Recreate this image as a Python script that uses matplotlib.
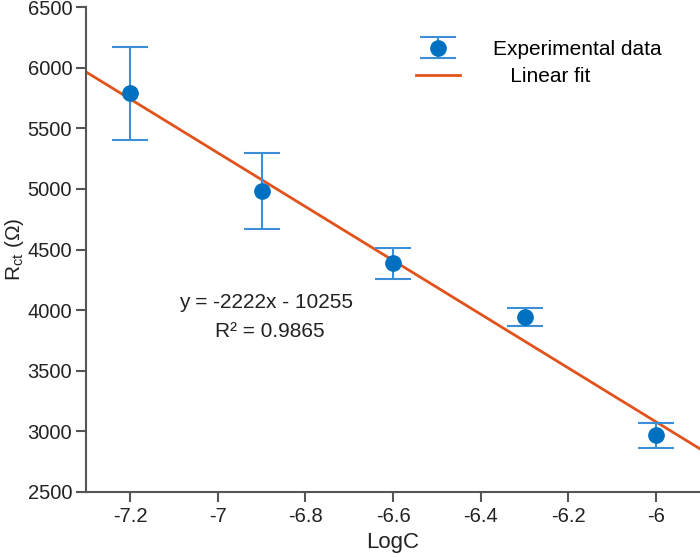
import numpy as np
import matplotlib
matplotlib.use("Agg")
import matplotlib.pyplot as plt

plt.rcParams["font.family"] = ["Liberation Sans", "DejaVu Sans"]

logc = [-7.2, -6.9, -6.6, -6.3, -6.0]
rct = [5790, 4985, 4385, 3940, 2965]
rct_err = [385, 315, 130, 75, 100]
slope = -2222
intercept = -10255
xticks = [-7.2, -7.0, -6.8, -6.6, -6.4, -6.2, -6.0]
xticklabels = ["-7.2", "-7", "-6.8", "-6.6", "-6.4", "-6.2", "-6"]
yticks = [2500, 3000, 3500, 4000, 4500, 5000, 5500, 6000, 6500]

fig = plt.figure(figsize=(7, 5.57), dpi=100)
ax = fig.add_axes([0.123, 0.117, 0.877, 0.870])

xfit = np.array([-7.3, -5.9])
ax.plot(xfit, slope * xfit + intercept, color="#E2531C", lw=2, label="   Linear fit", zorder=2)
ax.errorbar(logc, rct, yerr=rct_err, fmt="o", color="#0070C0", ecolor="#3A8FD6",
            elinewidth=1.5, capsize=13, capthick=1.5, markersize=11,
            label="Experimental data", zorder=3)

ax.text(-6.89, 4065, "y = -2222x - 10255", ha="center", va="center", fontsize=15, color="#222222")
ax.text(-6.88, 3825, "R² = 0.9865", ha="center", va="center", fontsize=15, color="#222222")

ax.set_xlim(-7.3, -5.9)
ax.set_ylim(2500, 6500)
ax.set_xticks(xticks)
ax.set_xticklabels(xticklabels)
ax.set_yticks(yticks)
ax.set_xlabel("LogC", fontsize=16, color="#222222", labelpad=4)
ax.set_ylabel("R$_{\\mathregular{ct}}$ (Ω)", fontsize=15, color="#222222", labelpad=1)

for s in ["top", "right"]:
    ax.spines[s].set_visible(False)
for s in ["left", "bottom"]:
    ax.spines[s].set_color("#555555")
    ax.spines[s].set_linewidth(1.5)
ax.tick_params(direction="out", length=7, width=1.5, color="#555555",
               labelsize=14.5, labelcolor="#222222", pad=4)
ax.tick_params(axis="y", pad=3)

handles, labels = ax.get_legend_handles_labels()
ax.legend(handles[::-1], labels[::-1], loc="upper left", frameon=False, fontsize=15,
          bbox_to_anchor=(0.537, 0.932), borderaxespad=0, borderpad=0,
          handlelength=2.1, handletextpad=1.6, labelspacing=0.38)

fig.savefig("out.png", dpi=100)
